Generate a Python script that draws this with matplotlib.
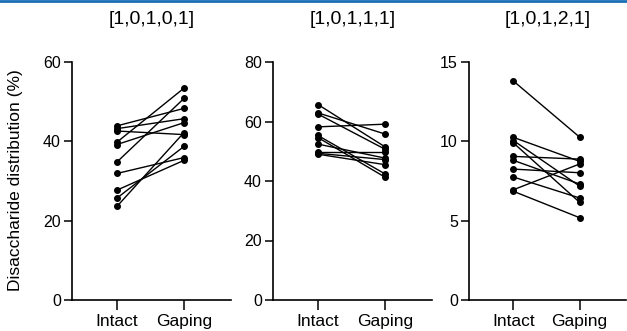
import matplotlib
matplotlib.use("Agg")
import matplotlib.pyplot as plt
from matplotlib.lines import Line2D

plt.rcParams['font.family'] = ['Liberation Sans', 'DejaVu Sans']

# data (pairs: intact -> gaping)
titles = ['[1,0,1,0,1]', '[1,0,1,1,1]', '[1,0,1,2,1]']
groups = ['Intact', 'Gaping']

intact_01 = [43.9, 43.2, 42.6, 39.8, 39.2, 34.8, 31.9, 27.7, 25.7, 23.6]
gaping_01 = [48.3, 45.7, 41.7, 53.4, 44.7, 50.8, 35.9, 35.2, 38.7, 42.2]

intact_11 = [65.7, 62.9, 62.5, 58.2, 55.3, 54.6, 52.4, 49.6, 49.3, 49.0]
gaping_11 = [51.5, 55.8, 50.7, 59.1, 42.4, 41.3, 47.7, 49.6, 47.2, 45.5]

intact_21 = [13.8, 10.25, 10.05, 9.9, 9.05, 8.8, 8.25, 7.75, 6.95, 6.85]
gaping_21 = [10.27, 8.74, 7.18, 6.16, 8.88, 7.31, 8.02, 6.43, 8.57, 5.19]

yticks = [[0, 20, 40, 60], [0, 20, 40, 60, 80], [0, 5, 10, 15]]
panels = [(intact_01, gaping_01), (intact_11, gaping_11), (intact_21, gaping_21)]

W, H = 627, 331
fig = plt.figure(figsize=(W / 100, H / 100), dpi=100)

lefts = [72, 273, 469]
widths = [159, 159, 157]
bottom, top = 300, 62

for i, (a, b) in enumerate(panels):
    ax = fig.add_axes([lefts[i] / W, 1 - bottom / H, widths[i] / W, (bottom - top) / H])
    for y0, y1 in zip(a, b):
        ax.plot([0, 1], [y0, y1], color='black', lw=1.0, marker='o', ms=4,
                clip_on=False, zorder=3)
    ax.set_xlim(-0.672, 1.703)
    ax.set_ylim(yticks[i][0], yticks[i][-1])
    ax.set_yticks(yticks[i])
    ax.set_xticks([0, 1])
    ax.set_xticklabels(groups, fontsize=12.5)
    ax.tick_params(axis='y', labelsize=11.5, length=6, width=1.1, pad=2)
    ax.tick_params(axis='x', length=7, width=1.1, pad=3)
    for s in ['top', 'right']:
        ax.spines[s].set_visible(False)
    for s in ['left', 'bottom']:
        ax.spines[s].set_linewidth(1.2)
    fig.text((lefts[i] + widths[i] / 2) / W, 1 - 19 / H, titles[i],
             ha='center', va='center', fontsize=14)

fig.text(16 / W, 1 - 180 / H, 'Disaccharide distribution (%)', rotation=90,
         ha='center', va='center', fontsize=12.5)

# blue rule at top of the figure
fig.add_artist(Line2D([0, 1], [1 - 1 / H, 1 - 1 / H], color='#1a6fb5', lw=2,
                      transform=fig.transFigure))

fig.savefig('out.png', dpi=100)
